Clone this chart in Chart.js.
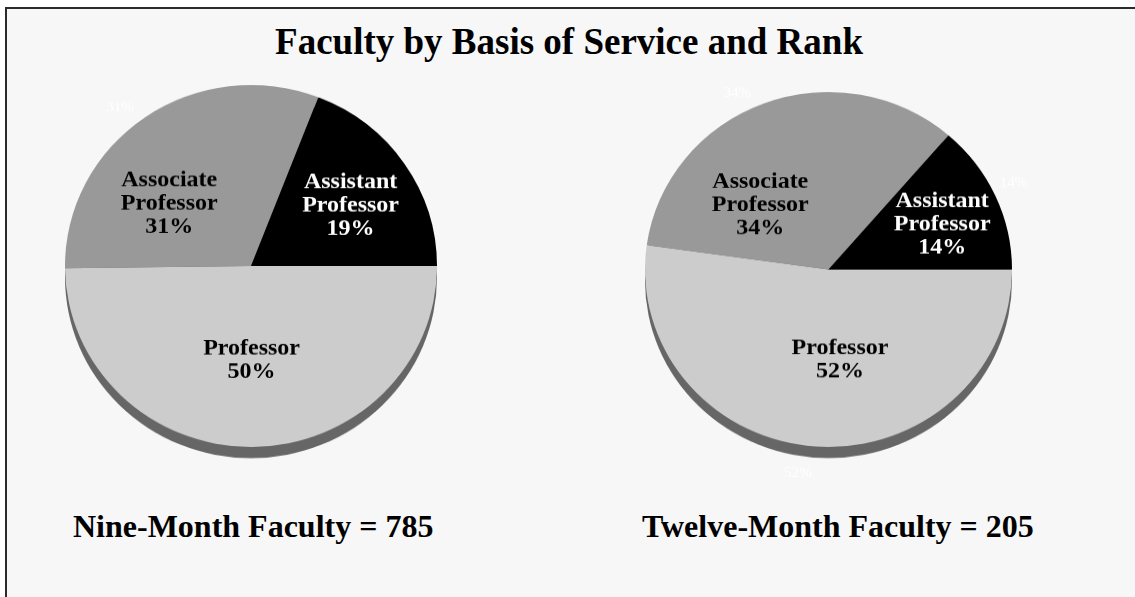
<!DOCTYPE html>
<html>
<head>
<meta charset="utf-8">
<script src="https://cdn.jsdelivr.net/npm/chart.js@4"></script>
<style>
html, body { margin: 0; background: #ffffff; overflow: hidden; width: 1135px; height: 597px; }
#frame { position: absolute; left: 5px; top: 7px; width: 1130px; height: 590px; background: #f7f7f7;
  border-left: 2px solid #2b2b2b; border-top: 2px solid #2b2b2b; box-sizing: border-box; }
.txt { position: absolute; font-family: "Liberation Serif", "Times New Roman", serif; font-weight: bold;
  color: #000; line-height: 1; white-space: nowrap; }
#title { font-size: 37px; left: 0; width: 1138px; text-align: center; top: 23px; }
.cap { font-size: 32px; top: 510px; }
canvas { position: absolute; }
</style>
</head>
<body>
<div id="frame"></div>
<div class="txt" id="title">Faculty by Basis of Service and Rank</div>
<div class="txt cap" style="left:73px">Nine-Month Faculty = 785</div>
<div class="txt cap" style="left:642px">Twelve-Month Faculty = 205</div>

<canvas id="nineChart" width="462" height="462" style="left:20px;top:35px;transform:scaleY(0.973);transform-origin:231px 231px"></canvas>
<canvas id="twelveChart" width="457" height="457" style="left:600px;top:41px;transform:scaleY(0.967);transform-origin:228.5px 228.5px"></canvas>

<script>
// data
var ranks = ["Professor", "Associate Professor", "Assistant Professor"];
var nineMonth = [391, 244, 150];
var twelveMonth = [107, 70, 28];

var sliceColors = ["#cccccc", "#999999", "#000000"];
var labelColors = ["#000000", "#000000", "#ffffff"];

// shadow under the pie (3d look)
var pieShadow = {
  id: 'pieShadow',
  beforeDatasetsDraw: function(chart) {
    var arc = chart.getDatasetMeta(0).data[0];
    var ctx = chart.ctx;
    ctx.save();
    ctx.fillStyle = "#666666";
    ctx.beginPath();
    ctx.arc(arc.x, arc.y + 11.5, arc.outerRadius, 0, Math.PI * 2);
    ctx.fill();
    ctx.restore();
  }
};

// labels inside the slices + faint white ones outside
var sliceLabels = {
  id: 'sliceLabels',
  afterDatasetsDraw: function(chart, args, opts) {
    var ctx = chart.ctx;
    var data = chart.data.datasets[0].data;
    var total = data.reduce(function(a, b) { return a + b; }, 0);
    var arcs = chart.getDatasetMeta(0).data;
    ctx.save();
    ctx.textAlign = "center";
    ctx.textBaseline = "middle";
    arcs.forEach(function(arc, i) {
      var pct = Math.round(data[i] / total * 100) + "%";
      var mid = (arc.startAngle + arc.endAngle) / 2;
      var r = arc.outerRadius;

      var p = opts.inside[i];
      var a = mid + p[0] * Math.PI / 180;
      var cx = arc.x + Math.cos(a) * r * p[1];
      var cy = arc.y + Math.sin(a) * r * p[1];
      var lines = chart.data.labels[i].split(" ");
      lines.push(pct);
      ctx.font = "bold 24px 'Liberation Serif', 'Times New Roman', serif";
      ctx.fillStyle = labelColors[i];
      var y0 = cy - (lines.length - 1) * 12;
      lines.forEach(function(t, k) {
        ctx.fillText(t, cx, y0 + k * 24);
      });

      var g = opts.ghost[i];
      if (g) {
        var ga = mid + g[0] * Math.PI / 180;
        ctx.font = "15px 'Liberation Serif', 'Times New Roman', serif";
        ctx.fillStyle = "#ffffff";
        ctx.fillText(pct, arc.x + Math.cos(ga) * r * g[1], arc.y + Math.sin(ga) * r * g[1]);
      }
    });
    ctx.restore();
  }
};

function makePie(id, values, inside, ghost) {
  var ctx = document.getElementById(id).getContext('2d');
  return new Chart(ctx, {
    type: 'pie',
    data: {
      labels: ranks,
      datasets: [{
        data: values,
        backgroundColor: sliceColors,
        borderWidth: 0
      }]
    },
    options: {
      responsive: false,
      animation: false,
      events: [],
      rotation: 90,
      layout: { padding: 45 },
      plugins: {
        legend: { display: false },
        tooltip: { enabled: false },
        sliceLabels: { inside: inside, ghost: ghost }
      }
    },
    plugins: [pieShadow, sliceLabels]
  });
}

// nine-month
var nineChart = makePie("nineChart", nineMonth,
  [[0, 0.52], [-17, 0.56], [2.6, 0.63]],
  [null, [-4, 1.126], null]);

// twelve-month
var twelveChart = makePie("twelveChart", twelveMonth,
  [[-11, 0.51], [-25, 0.52], [2.2, 0.67]],
  [[4.3, 1.16], [-6, 1.11], [-1.3, 1.12]]);
</script>
</body>
</html>
